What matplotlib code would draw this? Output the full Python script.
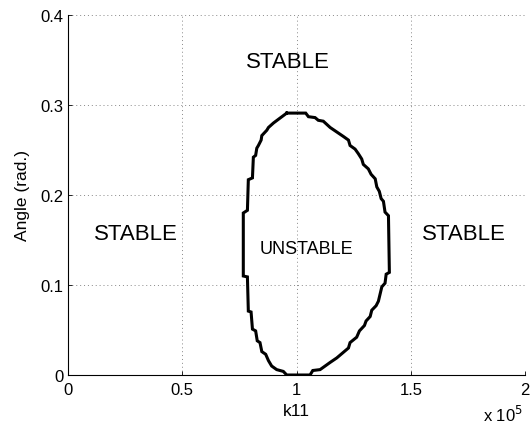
import matplotlib
matplotlib.use("Agg")
import matplotlib.pyplot as plt
import numpy as np

plt.rcParams['font.family'] = ['Liberation Sans', 'DejaVu Sans']

# stability boundary (k11 in units of 1e5, angle in rad), traced clockwise
k11_e5 = [0.957, 1.040, 1.052, 1.081, 1.095, 1.117, 1.147, 1.176, 1.205, 1.227,
          1.234, 1.256, 1.270, 1.285, 1.292, 1.314, 1.326, 1.344, 1.351, 1.362,
          1.370, 1.380, 1.387, 1.402, 1.406, 1.392, 1.387, 1.373, 1.358, 1.348,
          1.329, 1.322, 1.304, 1.297, 1.275, 1.263, 1.234, 1.227, 1.176, 1.147,
          1.103, 1.071, 1.059, 0.957, 0.942, 0.913, 0.891, 0.877, 0.865, 0.848,
          0.840, 0.828, 0.821, 0.807, 0.801, 0.789, 0.785, 0.767, 0.767, 0.785,
          0.789, 0.807, 0.811, 0.821, 0.826, 0.833, 0.845, 0.848, 0.859, 0.870,
          0.877, 0.899, 0.920, 0.957]
angle = [0.291, 0.291, 0.287, 0.286, 0.283, 0.282, 0.275, 0.270, 0.265, 0.261,
         0.255, 0.251, 0.246, 0.240, 0.234, 0.229, 0.223, 0.218, 0.209, 0.204,
         0.196, 0.193, 0.181, 0.177, 0.114, 0.112, 0.102, 0.098, 0.082, 0.077,
         0.072, 0.065, 0.060, 0.055, 0.049, 0.042, 0.036, 0.030, 0.019, 0.014,
         0.006, 0.005, 0.000, 0.000, 0.004, 0.006, 0.010, 0.016, 0.023, 0.026,
         0.036, 0.038, 0.049, 0.051, 0.070, 0.071, 0.109, 0.110, 0.180, 0.183,
         0.217, 0.219, 0.242, 0.244, 0.252, 0.255, 0.261, 0.266, 0.269, 0.272,
         0.275, 0.280, 0.284, 0.291]

xticks = [0, 0.5, 1, 1.5, 2]
xticklabels = ['0', '0.5', '1', '1.5', '2']
yticks = [0, 0.1, 0.2, 0.3, 0.4]
yticklabels = ['0', '0.1', '0.2', '0.3', '0.4']

fig = plt.figure(figsize=(5.31, 4.31), dpi=100)
ax = fig.add_axes([0.128, 0.1276, 0.861, 0.8353])

ax.plot(k11_e5, angle, color='black', linewidth=2.2, solid_joinstyle='miter')

ax.text(0.297, 0.157, 'STABLE', fontsize=16, ha='center', va='center')
ax.text(0.96, 0.348, 'STABLE', fontsize=16, ha='center', va='center')
ax.text(1.73, 0.157, 'STABLE', fontsize=16, ha='center', va='center')
ax.text(1.045, 0.1406, 'UNSTABLE', fontsize=13, ha='center', va='center')

ax.set_xlim(0, 2)
ax.set_ylim(0, 0.4)
ax.set_xticks(xticks)
ax.set_xticklabels(xticklabels)
ax.set_yticks(yticks)
ax.set_yticklabels(yticklabels)
ax.tick_params(direction='in', length=3, labelsize=12, width=0.6)
ax.tick_params(axis='x', pad=5)
ax.tick_params(axis='y', pad=3)
ax.grid(True, linestyle=(0, (1, 3)), color='#888888', linewidth=0.7)

ax.spines['top'].set_visible(False)
ax.spines['right'].set_visible(False)

ax.set_xlabel('k11', fontsize=12.5, labelpad=4)
ax.set_ylabel('Angle (rad.)', fontsize=12.5, labelpad=8)
fig.text(0.947, 0.037, r'x 10$^5$', fontsize=12, ha='center', va='center')

fig.savefig('out.png', dpi=100)
